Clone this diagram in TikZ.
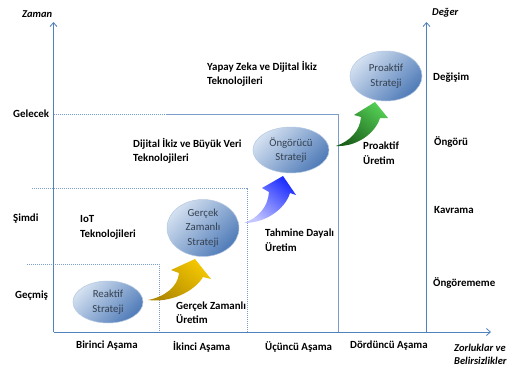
\documentclass[tikz,border=0pt]{standalone}
\usepackage{fontspec}
\setmainfont{Carlito}
\usetikzlibrary{arrows.meta,shapes.geometric}
\definecolor{axisblue}{HTML}{4F81BD}
\definecolor{gridblue}{HTML}{7A9DCD}
\definecolor{elltop}{HTML}{D3E0F0}
\definecolor{ellbot}{HTML}{4F7BB8}
\definecolor{ellbord}{HTML}{B4C8E2}
\definecolor{elltext}{HTML}{34404F}
\definecolor{ytop}{HTML}{F4C700}
\definecolor{ybot}{HTML}{B08800}
\definecolor{btop}{HTML}{1C2CFF}
\definecolor{bbot}{HTML}{C4C6FF}
\definecolor{gtop}{HTML}{52CC52}
\definecolor{gbot}{HTML}{1C601C}
\begin{document}
\begin{tikzpicture}[x=1pt,y=-1pt,
  lbl/.style={font=\fontsize{10.9}{14.5}\selectfont\bfseries, anchor=west, align=left, inner sep=0pt},
  ilbl/.style={font=\fontsize{10.5}{13}\selectfont\bfseries\itshape, anchor=west, align=left, inner sep=0pt},
  axline/.style={draw=axisblue, line width=0.8pt},
  axarrow/.style={axline, -{Straight Barb[length=4pt,width=7pt]}},
  gridline/.style={draw=gridblue, line width=0.6pt, dash pattern=on 1.2pt off 0.8pt},
  strat/.style={ellipse, inner sep=0pt, top color=elltop, bottom color=ellbot, shading angle=45,
    draw=ellbord, line width=0.5pt, font=\fontsize{10.8}{14.5}\selectfont, text=elltext, align=center},
  yarrow/.style={top color=ytop, bottom color=ybot, shading angle=-40},
  barrow/.style={top color=btop, bottom color=bbot, shading angle=-40},
  garrow/.style={top color=gtop, bottom color=gbot, shading angle=-40}
]
\useasboundingbox[fill=white] (0,0) rectangle (507,367);

% axes
\coordinate (O) at (53.5,332);
\coordinate (Ytop) at (53.5,22);
\coordinate (Xend) at (491,332);
\coordinate (R0) at (426.5,332);
\coordinate (Rtop) at (426.5,22);

% dashed grid
\draw[gridline] (53.5,114) -- (338,114) -- (338,332);
\draw[gridline] (32,188) -- (247,188) -- (247,332);
\draw[gridline] (27,264) -- (159,264) -- (159,332);

\draw[axarrow] (O) -- (Ytop);
\draw[axarrow] (O) -- (Xend);
\draw[axarrow] (R0) -- (Rtop);

% ellipses
\node[strat, minimum width=70pt, minimum height=42pt] (reak) at (108,302) {Reaktif\\Strateji};
\node[strat, minimum width=72pt, minimum height=57pt] (gerc) at (203,228) {Gerçek\\Zamanlı\\Strateji};
\node[strat, minimum width=76pt, minimum height=46pt] (ongo) at (291,150) {Öngörücü\\Strateji};
\node[strat, minimum width=72pt, minimum height=50pt] (proa) at (386,76) {Proaktif\\Strateji};

% block arrows
\shade[yarrow] (148,300) .. controls (170,303) and (194,292) .. (203,277) -- (211,279) -- (195,259)
  -- (171,270) -- (179,273) .. controls (178,287) and (164,297) .. cycle;
\shade[barrow] (244,223) .. controls (266,223) and (285,209) .. (290,193) -- (296,195) -- (283,176)
  -- (262,188) -- (269,192) .. controls (268,207) and (258,218) .. cycle;
\shade[garrow] (336,146) .. controls (356,147) and (375,134) .. (380,118) -- (388,118) -- (375,102)
  -- (354,115) -- (361,117) .. controls (360,131) and (350,141) .. cycle;

% axis titles
\node[ilbl] (zaman) at (22,14) {Zaman};
\node[ilbl] (deger) at (432,13) {Değer};
\node[ilbl] (zorl) at (454,354.5) {Zorluklar ve\\Belirsizlikler};

% time labels
\node[lbl] (gelecek) at (13,114) {Gelecek};
\node[lbl] (simdi) at (13,219) {Şimdi};
\node[lbl] (gecmis) at (15,296) {Geçmiş};

% value labels
\node[lbl] (degisim) at (433,78) {Değişim};
\node[lbl] (ongoru) at (434,142) {Öngörü};
\node[lbl] (kavrama) at (434,210) {Kavrama};
\node[lbl] (ongorememe) at (433,283) {Öngörememe};

% stage labels
\node[lbl] (s1) at (76,346) {Birinci Aşama};
\node[lbl] (s2) at (173,347) {İkinci Aşama};
\node[lbl] (s3) at (265,347) {Üçüncü Aşama};
\node[lbl] (s4) at (350,346) {Dördüncü Aşama};

% technology labels
\node[lbl] (t4) at (207,74) {Yapay Zeka ve Dijital İkiz\\Teknolojileri};
\node[lbl] (t3) at (133,151) {Dijital İkiz ve Büyük Veri\\Teknolojileri};
\node[lbl] (t1) at (80,227.5) {IoT\\Teknolojileri};

% production labels
\node[lbl] (p2) at (176,312.5) {Gerçek Zamanlı\\Üretim};
\node[lbl] (p3) at (265,240) {Tahmine Dayalı\\Üretim};
\node[lbl] (p4) at (363,153) {Proaktif\\Üretim};
\end{tikzpicture}
\end{document}
